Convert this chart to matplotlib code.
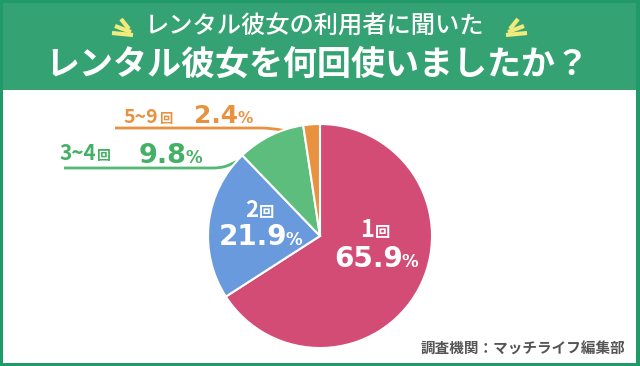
import matplotlib
matplotlib.use('Agg')
import matplotlib.pyplot as plt
from matplotlib.patches import Rectangle, PathPatch
from matplotlib.path import Path

plt.rcParams['font.family'] = ['Noto Sans CJK JP', 'DejaVu Sans']
NUM = ['DejaVu Sans']

# data
labels = ['1回', '2回', '3~4回', '5~9回']
counts = ['1', '2', '3~4', '5~9']
values = [65.9, 21.9, 9.8, 2.4]
colors = ['#d24c76', '#6a9ade', '#5dbd7c', '#e8923f']

title1 = 'レンタル彼女の利用者に聞いた'
title2 = 'レンタル彼女を何回使いましたか？'
source = '調査機関：マッチライフ編集部'

W, H = 640, 366
def Y(py):
    return H - py

fig = plt.figure(figsize=(6.4, 3.66), dpi=100)
fig.patch.set_facecolor('#1f9a68')
ax = fig.add_axes([0, 0, 1, 1])

# background panels
ax.add_patch(Rectangle((3, Y(90)), 633, 87, facecolor='#34a272', edgecolor='none', zorder=0))
ax.add_patch(Rectangle((3, Y(363)), 633, 273, facecolor='white', edgecolor='none', zorder=0))

# title
ax.text(315, Y(27), title1, color='white', fontsize=17.5, fontweight='medium', ha='center', va='center')
ax.text(317, Y(64), title2, color='white', fontsize=24.5, fontweight='bold', ha='center', va='center')

# sparkles
spark = '#f1ea7c'
for (x0, y0, x1, y1) in [(121, 19, 129, 29), (115, 26, 131, 32), (112, 33, 133, 35)]:
    ax.plot([x0, x1], [Y(y0), Y(y1)], color=spark, lw=3, solid_capstyle='butt', zorder=2)
for (x0, y0, x1, y1) in [(518, 19, 510, 29), (524, 26, 508, 32), (527, 33, 506, 35)]:
    ax.plot([x0, x1], [Y(y0), Y(y1)], color=spark, lw=3, solid_capstyle='butt', zorder=2)

# pie
wedges, _ = ax.pie(values, colors=colors, startangle=90, counterclock=False,
                   center=(320, Y(236)), radius=112,
                   wedgeprops=dict(edgecolor='white', linewidth=1.5))
for w in wedges:
    w.set_zorder(3)

def num_label(x, y, val, size, color, psize):
    ax.text(x, Y(y), f'{val}', color=color, fontsize=size, fontweight='bold', family=NUM,
            ha='right', va='baseline', zorder=5)
    ax.text(x - 1, Y(y), '%', color=color, fontsize=psize, fontweight='bold', family=NUM,
            ha='left', va='baseline', zorder=5)

def count_label(x, y, cnt, size, color, ksize):
    ax.text(x, Y(y), cnt, color=color, fontsize=size, fontweight='bold',
            ha='right', va='baseline', zorder=5)
    ax.text(x + 1, Y(y), '回', color=color, fontsize=ksize, fontweight='bold',
            ha='left', va='baseline', zorder=5)

# inside labels
count_label(374, 237, counts[0], 17, 'white', 11)
num_label(403, 267, values[0], 20, 'white', 12)
count_label(258, 217, counts[1], 16, 'white', 11)
num_label(287, 245, values[1], 20, 'white', 12)

# callouts
green_t = '#44b066'
orange_t = '#e8923f'
count_label(96, 160, counts[2], 15, green_t, 10)
num_label(187, 163, values[2], 19.5, green_t, 12)
count_label(158, 123, counts[3], 14, orange_t, 9.5)
num_label(238, 123, values[3], 18, orange_t, 11)

def leader(pts, color):
    codes = [Path.MOVETO, Path.LINETO, Path.CURVE4, Path.CURVE4, Path.CURVE4]
    verts = [(x, Y(y)) for x, y in pts]
    ax.add_patch(PathPatch(Path(verts, codes), facecolor='none', edgecolor=color, lw=2, zorder=2))

leader([(64, 168), (212, 168), (232, 168), (230, 161), (248, 159)], '#52b872')
leader([(115, 128), (258, 128), (280, 128), (285, 132), (308, 134)], orange_t)

# source
ax.text(625, Y(349), source, color='#555555', fontsize=10.5, fontweight='bold', ha='right', va='center')

ax.set_xlim(0, W)
ax.set_ylim(0, H)
ax.set_aspect('auto')
ax.axis('off')

plt.savefig('out.png', dpi=100, facecolor=fig.get_facecolor())
